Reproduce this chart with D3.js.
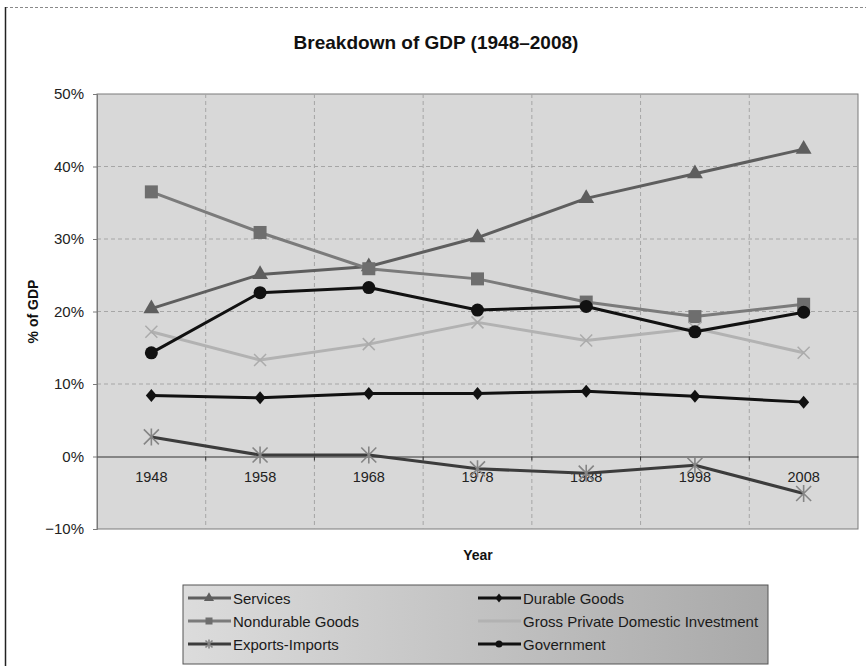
<!DOCTYPE html>
<html>
<head>
<meta charset="utf-8">
<script src="https://cdn.jsdelivr.net/npm/d3@7"></script>
<style>
  html, body { margin: 0; padding: 0; background: #fff; }
  svg { display: block; font-family: "Liberation Sans", Arial, sans-serif; }
</style>
</head>
<body>
<svg id="chart" width="866" height="666"></svg>
<script>
// Categories and series (share of GDP, %)
const years = ["1948", "1958", "1968", "1978", "1988", "1998", "2008"];
const services = [20.4, 25.1, 26.2, 30.2, 35.6, 39.0, 42.4];
const nondurableGoods = [36.5, 30.9, 25.9, 24.5, 21.3, 19.3, 21.0];
const grossPrivateInvestment = [17.2, 13.3, 15.5, 18.5, 16.0, 17.7, 14.3];
const exportsImports = [2.7, 0.2, 0.2, -1.7, -2.3, -1.2, -5.1];
const durableGoods = [8.4, 8.1, 8.7, 8.7, 9.0, 8.3, 7.5];
const government = [14.3, 22.6, 23.3, 20.2, 20.7, 17.2, 19.9];
const yTicks = [-10, 0, 10, 20, 30, 40, 50];

const series = [
  { name: "Services", values: services, color: "#5e5e5e", marker: "triangle", mcolor: "#5e5e5e", col: 0, row: 0 },
  { name: "Nondurable Goods", values: nondurableGoods, color: "#7b7b7b", marker: "square", mcolor: "#6e6e6e", col: 0, row: 1 },
  { name: "Gross Private Domestic Investment", values: grossPrivateInvestment, color: "#b2b2b2", marker: "x", mcolor: "#ababab", col: 1, row: 1 },
  { name: "Exports-Imports", values: exportsImports, color: "#3c3c3c", marker: "star", mcolor: "#858585", col: 0, row: 2 },
  { name: "Durable Goods", values: durableGoods, color: "#111111", marker: "diamond", mcolor: "#111111", col: 1, row: 0 },
  { name: "Government", values: government, color: "#111111", marker: "circle", mcolor: "#111111", col: 1, row: 2 }
];

const svg = d3.select("#chart");
const plot = { left: 97, right: 858, top: 94, bottom: 529 };

const x = d3.scaleBand().domain(years).range([plot.left, plot.right]).padding(0);
const y = d3.scaleLinear().domain([-10, 50]).range([plot.bottom, plot.top]);
const cx = d => x(d) + x.bandwidth() / 2;

// Outer frame
svg.append("line").attr("x1", 5).attr("x2", 866).attr("y1", 7.5).attr("y2", 7.5)
  .attr("stroke", "#8a8a8a").attr("stroke-width", 1).attr("stroke-dasharray", "3,2");
svg.append("line").attr("x1", 5.5).attr("x2", 5.5).attr("y1", 7).attr("y2", 666)
  .attr("stroke", "#222").attr("stroke-width", 1.5);

// Title
svg.append("text").attr("x", 436).attr("y", 49).attr("text-anchor", "middle")
  .attr("font-size", 19).attr("font-weight", "bold").attr("fill", "#111")
  .text("Breakdown of GDP (1948–2008)");

// Plot background
svg.append("rect").attr("x", plot.left).attr("y", plot.top)
  .attr("width", plot.right - plot.left).attr("height", plot.bottom - plot.top)
  .attr("fill", "#d8d8d8").attr("stroke", "#7a7a7a").attr("stroke-width", 1);

// Gridlines
const grid = svg.append("g");
grid.selectAll("line.h").data(yTicks.filter(t => t !== 0 && t !== 50 && t !== -10)).join("line")
  .attr("x1", plot.left).attr("x2", plot.right)
  .attr("y1", d => y(d)).attr("y2", d => y(d))
  .attr("stroke", "#a6a6a6").attr("stroke-width", 1).attr("stroke-dasharray", "4,3");
grid.selectAll("line.v").data(years.slice(1)).join("line")
  .attr("x1", d => x(d)).attr("x2", d => x(d))
  .attr("y1", plot.top).attr("y2", plot.bottom)
  .attr("stroke", "#a6a6a6").attr("stroke-width", 1).attr("stroke-dasharray", "4,3");

// Y axis
const yAxis = d3.axisLeft(y).tickValues(yTicks).tickSize(4)
  .tickFormat(d => (d < 0 ? "\u2212" + Math.abs(d) : d) + "%");
const yg = svg.append("g").attr("transform", `translate(${plot.left},0)`).call(yAxis);
yg.select(".domain").attr("stroke", "#7a7a7a");
yg.selectAll(".tick line").attr("stroke", "#7a7a7a");
yg.selectAll(".tick text").attr("font-size", 15).attr("fill", "#222")
  .attr("font-family", "Liberation Sans, Arial, sans-serif").attr("x", -13);

// X axis on the zero line
const xAxis = d3.axisBottom(x).tickSize(0).tickPadding(15);
const xg = svg.append("g").attr("transform", `translate(0,${y(0)})`).call(xAxis);
xg.select(".domain").attr("stroke", "#333").attr("stroke-width", 1.2);
xg.selectAll(".tick text").attr("font-size", 14.5).attr("fill", "#222")
  .attr("font-family", "Liberation Sans, Arial, sans-serif");
xg.selectAll(".tickmark").data(years.slice(1)).join("line")
  .attr("x1", d => x(d)).attr("x2", d => x(d)).attr("y1", 0).attr("y2", 4)
  .attr("stroke", "#333");

// Axis titles
svg.append("text").attr("transform", `translate(38,${(plot.top + plot.bottom) / 2}) rotate(-90)`)
  .attr("text-anchor", "middle").attr("font-size", 14).attr("font-weight", "bold").attr("fill", "#111")
  .text("% of GDP");
svg.append("text").attr("x", 478).attr("y", 560).attr("text-anchor", "middle")
  .attr("font-size", 14).attr("font-weight", "bold").attr("fill", "#111")
  .text("Year");

// Marker drawing
function drawMarker(g, type, color, size) {
  const s = size;
  switch (type) {
    case "triangle":
      g.append("path").attr("d", d3.symbol(d3.symbolTriangle, s * s * 0.9)()).attr("fill", color);
      break;
    case "square":
      g.append("rect").attr("x", -s / 2).attr("y", -s / 2).attr("width", s).attr("height", s).attr("fill", color);
      break;
    case "diamond":
      g.append("path").attr("d", `M0,${-s / 2 - 1}L${s / 2},0L0,${s / 2 + 1}L${-s / 2},0Z`).attr("fill", color);
      break;
    case "circle":
      g.append("circle").attr("r", s / 2).attr("fill", color);
      break;
    case "x":
      g.append("path").attr("d", `M${-s / 2},${-s / 2}L${s / 2},${s / 2}M${-s / 2},${s / 2}L${s / 2},${-s / 2}`)
        .attr("stroke", color).attr("stroke-width", 1.5).attr("fill", "none");
      break;
    case "star":
      g.append("path").attr("d", `M${-s / 2},${-s / 2}L${s / 2},${s / 2}M${-s / 2},${s / 2}L${s / 2},${-s / 2}M0,${-s / 2 - 1}L0,${s / 2 + 1}`)
        .attr("stroke", color).attr("stroke-width", 1.6).attr("fill", "none");
      break;
  }
}
const markerSize = { triangle: 11, square: 13, diamond: 11, circle: 13, x: 12, star: 15 };

// Series lines and markers
const line = d3.line().x((v, i) => cx(years[i])).y(v => y(v));
const seriesG = svg.append("g");
series.forEach(s => {
  const g = seriesG.append("g");
  g.append("path").attr("d", line(s.values)).attr("fill", "none")
    .attr("stroke", s.color).attr("stroke-width", 3).attr("stroke-linejoin", "round");
  s.values.forEach((v, i) => {
    const m = g.append("g").attr("transform", `translate(${cx(years[i])},${y(v)})`);
    drawMarker(m, s.marker, s.mcolor, markerSize[s.marker]);
  });
});

// Legend
const defs = svg.append("defs");
const grad = defs.append("linearGradient").attr("id", "legendFill").attr("x1", "0").attr("x2", "1").attr("y1", "0").attr("y2", "0");
grad.append("stop").attr("offset", "0%").attr("stop-color", "#dcdcdc");
grad.append("stop").attr("offset", "100%").attr("stop-color", "#a9a9a9");

const legend = { x: 183, y: 585, w: 585, h: 79 };
svg.append("rect").attr("x", legend.x).attr("y", legend.y).attr("width", legend.w).attr("height", legend.h)
  .attr("fill", "url(#legendFill)").attr("stroke", "#555").attr("stroke-width", 1);

const colX = [188, 478];
const rowY = [598, 621, 644];
series.forEach(s => {
  const g = svg.append("g").attr("transform", `translate(${colX[s.col]},${rowY[s.row]})`);
  g.append("line").attr("x1", 0).attr("x2", 43).attr("y1", 0).attr("y2", 0)
    .attr("stroke", s.color).attr("stroke-width", 3);
  const m = g.append("g").attr("transform", "translate(21,0)");
  drawMarker(m, s.marker, s.mcolor, s.marker === "x" ? 0 : 7);
  g.append("text").attr("x", 45).attr("y", 5.5).attr("font-size", 15).attr("fill", "#1a1a1a")
    .text(s.name);
});
</script>
</body>
</html>
